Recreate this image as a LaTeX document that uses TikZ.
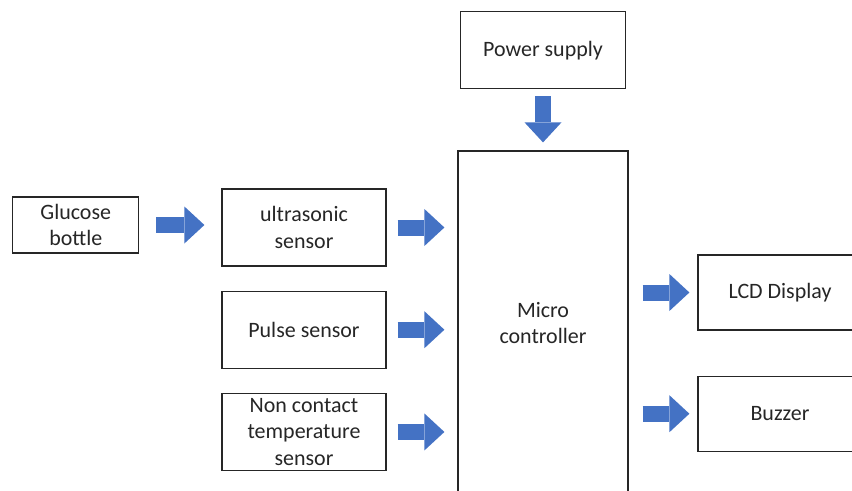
\documentclass[tikz,border=0pt]{standalone}
\usepackage{fontspec}
\setmainfont{Carlito}
\usepackage{tikz}
\usetikzlibrary{arrows.meta, positioning, calc}
\definecolor{arrowblue}{HTML}{4472C4}
\definecolor{textgray}{HTML}{262626}

\begin{document}
\begin{tikzpicture}[
		node distance=0.48cm,
		block/.style={draw=black!85, rectangle, line width=0.7pt, minimum width=3.28cm, minimum height=1.54cm, align=center, font=\fontsize{12.5}{15}\selectfont, text=textgray, inner sep=1pt},
		bigarrow/.style={draw=arrowblue, line width=0.32cm, -{Triangle[length=0.4cm, width=0.74cm, line width=0pt]}}
	]
	\useasboundingbox (0,0) rectangle (17.04,-9.82);
	\clip (0,0) rectangle (17.04,-9.82);

	\node[block, minimum width=3.4cm, minimum height=6.88cm] (mc) at (10.86,-6.46) {Micro\\controller};
	\node[block, minimum width=3.3cm, above=1.22cm of mc] (power) {Power supply};
	\node[block] (ultra) at (6.08,-4.55) {ultrasonic\\sensor};
	\node[block, below=of ultra] (pulse) {Pulse sensor};
	\node[block, below=of pulse] (temp) {Non contact\\temperature\\sensor};
	\node[block, minimum width=2.52cm, minimum height=1.12cm, left=1.64cm of ultra, yshift=0.05cm] (glucose) {Glucose\\bottle};
	\node[block, minimum height=1.5cm] (lcd) at (15.6,-5.85) {LCD Display};
	\node[block, minimum height=1.5cm, below=0.9cm of lcd] (buzzer) {Buzzer};

	% Inputs
	\draw[bigarrow, shorten <=0.34cm, shorten >=0.34cm] (glucose.east) -- (glucose.east -| ultra.west);
	\draw[bigarrow, shorten <=0.22cm, shorten >=0.26cm] (ultra.east) -- (ultra.east -| mc.west);
	\draw[bigarrow, shorten <=0.22cm, shorten >=0.26cm] (pulse.east) -- (pulse.east -| mc.west);
	\draw[bigarrow, shorten <=0.22cm, shorten >=0.26cm] (temp.east) -- (temp.east -| mc.west);
	\draw[bigarrow, shorten <=0.14cm, shorten >=0.16cm] (power.south) -- (power.south |- mc.north);

	% Outputs
	\draw[bigarrow, shorten <=0.28cm, shorten >=0.16cm] (lcd.west -| mc.east) -- (lcd.west);
	\draw[bigarrow, shorten <=0.28cm, shorten >=0.16cm] (buzzer.west -| mc.east) -- (buzzer.west);
\end{tikzpicture}
\end{document}
